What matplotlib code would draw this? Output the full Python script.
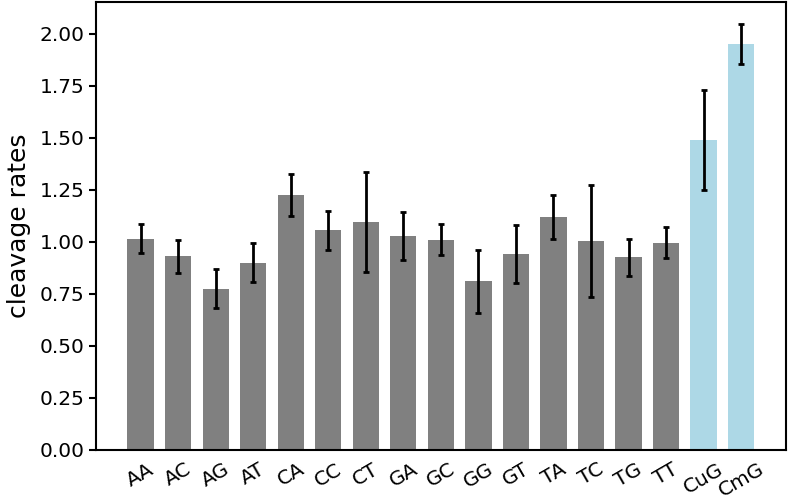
import numpy as np
import matplotlib
matplotlib.use("Agg")
import matplotlib.pyplot as plt

labels = ['AA', 'AC', 'AG', 'AT', 'CA', 'CC', 'CT', 'GA', 'GC', 'GG',
          'GT', 'TA', 'TC', 'TG', 'TT', 'CuG', 'CmG']
rates = [1.015, 0.93, 0.775, 0.90, 1.225, 1.055, 1.095, 1.03, 1.01, 0.81,
         0.94, 1.12, 1.005, 0.925, 0.995, 1.49, 1.95]
errors = [0.07, 0.08, 0.095, 0.095, 0.10, 0.095, 0.24, 0.115, 0.075, 0.15,
          0.14, 0.105, 0.27, 0.09, 0.075, 0.24, 0.097]
colors = ['grey'] * 15 + ['lightblue'] * 2

fig, ax = plt.subplots(figsize=(7.88, 5.01), dpi=100)
fig.subplots_adjust(left=0.122, right=0.997, top=0.997, bottom=0.102)

x = np.arange(len(labels))
ax.bar(x, rates, width=0.7, color=colors, yerr=errors,
       error_kw=dict(ecolor='black', elinewidth=2, capsize=2, capthick=2))

ax.set_ylim(0, 2.155)
ax.set_xticks(x)
ax.set_xticklabels(labels, rotation=30, fontsize=14.5)
ax.tick_params(axis='x', length=0, pad=7)
ax.tick_params(axis='y', labelsize=14.5, width=1.5, length=5)
ax.set_ylabel('cleavage rates', fontsize=18, labelpad=6)
for s in ax.spines.values():
    s.set_linewidth(1.5)

plt.savefig('out.png', dpi=100)
